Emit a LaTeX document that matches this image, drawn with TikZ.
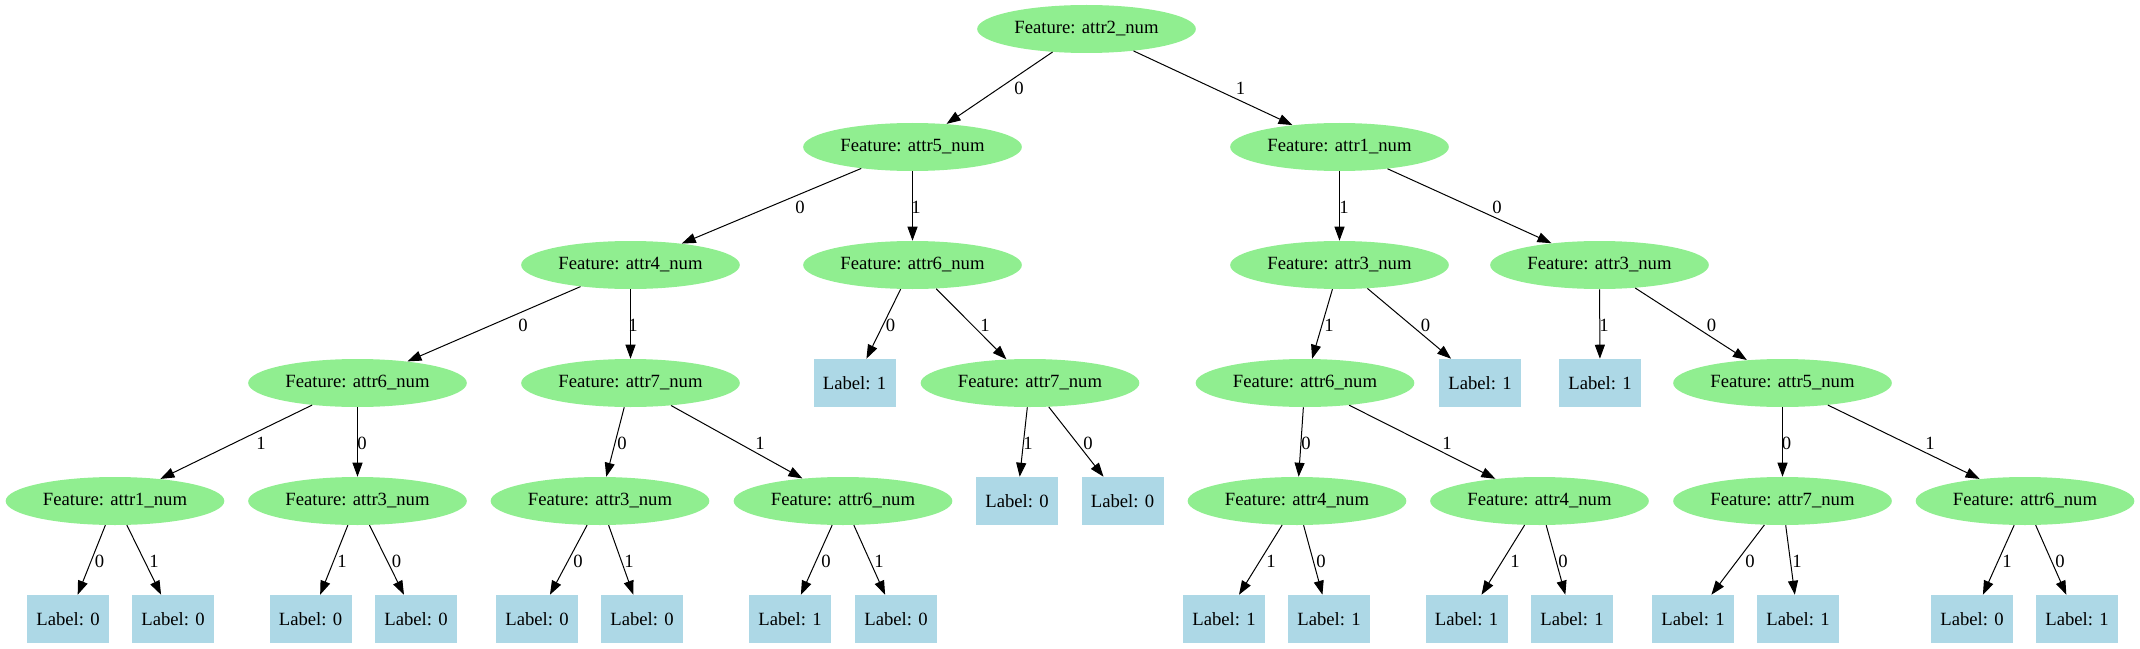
\documentclass[tikz,border=0pt]{standalone}
\usepackage{fontspec}
\setmainfont{Liberation Serif}
\usetikzlibrary{shapes.geometric,arrows.meta}
\definecolor{featgreen}{HTML}{90EE90}
\definecolor{leafblue}{HTML}{ADD8E6}
\begin{document}
\begin{tikzpicture}[x=0.75pt,y=-0.75pt,
  txt/.style={font=\fontsize{14}{16}\selectfont},
  feat/.style={txt, ellipse, fill=featgreen, draw=none, minimum width=164pt, minimum height=36pt, inner sep=0pt},
  leaf/.style={txt, rectangle, fill=leafblue, draw=none, minimum width=61.5pt, minimum height=36pt, inner sep=0pt},
  conn/.style={-{Triangle[length=10.5pt,width=7.5pt]}, line width=0.75pt, black},
  lbl/.style={txt, inner sep=0pt}]
\useasboundingbox (0,0) rectangle (2140,649);
% level 0
\node[feat] (r) at (1086.5,29) {Feature: attr2\_num};
% level 1
\node[feat] (a) at (912.5,147) {Feature: attr5\_num};
\node[feat] (b) at (1339.5,147) {Feature: attr1\_num};
% level 2
\node[feat] (aa) at (630.5,265) {Feature: attr4\_num};
\node[feat] (ab) at (912.5,265) {Feature: attr6\_num};
\node[feat] (ba) at (1339.5,265) {Feature: attr3\_num};
\node[feat] (bb) at (1599.5,265) {Feature: attr3\_num};
% level 3
\node[feat] (aaa) at (357.5,383) {Feature: attr6\_num};
\node[feat] (aab) at (630.5,383) {Feature: attr7\_num};
\node[leaf] (aba) at (854.5,383) {Label: 1};
\node[feat] (abb) at (1030,383) {Feature: attr7\_num};
\node[feat] (baa) at (1305,383) {Feature: attr6\_num};
\node[leaf] (bab) at (1480,383) {Label: 1};
\node[leaf] (bba) at (1600,383) {Label: 1};
\node[feat] (bbb) at (1782.5,383) {Feature: attr5\_num};
% level 4
\node[feat] (aaaa) at (115,501) {Feature: attr1\_num};
\node[feat] (aaab) at (357.5,501) {Feature: attr3\_num};
\node[feat] (aaba) at (600,501) {Feature: attr3\_num};
\node[feat] (aabb) at (843,501) {Feature: attr6\_num};
\node[leaf] (abba) at (1017,501) {Label: 0};
\node[leaf] (abbb) at (1122.5,501) {Label: 0};
\node[feat] (baaa) at (1297,501) {Feature: attr4\_num};
\node[feat] (baab) at (1539.5,501) {Feature: attr4\_num};
\node[feat] (bbba) at (1782.5,501) {Feature: attr7\_num};
\node[feat] (bbbb) at (2025,501) {Feature: attr6\_num};
% level 5
\node[leaf] (l1) at (68,619) {Label: 0};
\node[leaf] (l2) at (173,619) {Label: 0};
\node[leaf] (l3) at (310.5,619) {Label: 0};
\node[leaf] (l4) at (416,619) {Label: 0};
\node[leaf] (l5) at (537,619) {Label: 0};
\node[leaf] (l6) at (642,619) {Label: 0};
\node[leaf] (l7) at (790,619) {Label: 1};
\node[leaf] (l8) at (896,619) {Label: 0};
\node[leaf] (l9) at (1224,619) {Label: 1};
\node[leaf] (l10) at (1329,619) {Label: 1};
\node[leaf] (l11) at (1466.5,619) {Label: 1};
\node[leaf] (l12) at (1572,619) {Label: 1};
\node[leaf] (l13) at (1693,619) {Label: 1};
\node[leaf] (l14) at (1798,619) {Label: 1};
\node[leaf] (l15) at (1972,619) {Label: 0};
\node[leaf] (l16) at (2077,619) {Label: 1};
% edges
\draw[conn] (r) -- (a) node[lbl, at={(1019,88)}] {0};
\draw[conn] (r) -- (b) node[lbl, at={(1240.6,88)}] {1};
\draw[conn] (a) -- (aa) node[lbl, at={(800,207)}] {0};
\draw[conn] (a) -- (ab) node[lbl, at={(916,207)}] {1};
\draw[conn] (b) -- (ba) node[lbl, at={(1344,207)}] {1};
\draw[conn] (b) -- (bb) node[lbl, at={(1497,207)}] {0};
\draw[conn] (aa) -- (aaa) node[lbl, at={(523,325)}] {0};
\draw[conn] (aa) -- (aab) node[lbl, at={(633,325)}] {1};
\draw[conn] (ab) -- (aba) node[lbl, at={(890.6,325)}] {0};
\draw[conn] (ab) -- (abb) node[lbl, at={(985,325)}] {1};
\draw[conn] (ba) -- (baa) node[lbl, at={(1329,325)}] {1};
\draw[conn] (ba) -- (bab) node[lbl, at={(1425.6,325)}] {0};
\draw[conn] (bb) -- (bba) node[lbl, at={(1604,325)}] {1};
\draw[conn] (bb) -- (bbb) node[lbl, at={(1711.5,325)}] {0};
\draw[conn] (aaa) -- (aaaa) node[lbl, at={(261,443)}] {1};
\draw[conn] (aaa) -- (aaab) node[lbl, at={(362,443)}] {0};
\draw[conn] (aab) -- (aaba) node[lbl, at={(622,443)}] {0};
\draw[conn] (aab) -- (aabb) node[lbl, at={(760,443)}] {1};
\draw[conn] (abb) -- (abba) node[lbl, at={(1028,443)}] {1};
\draw[conn] (abb) -- (abbb) node[lbl, at={(1088,443)}] {0};
\draw[conn] (baa) -- (baaa) node[lbl, at={(1306,443)}] {0};
\draw[conn] (baa) -- (baab) node[lbl, at={(1447,443)}] {1};
\draw[conn] (bbb) -- (bbba) node[lbl, at={(1786.6,443)}] {0};
\draw[conn] (bbb) -- (bbbb) node[lbl, at={(1930,443)}] {1};
\draw[conn] (aaaa) -- (l1) node[lbl, at={(99.6,561)}] {0};
\draw[conn] (aaaa) -- (l2) node[lbl, at={(154,561)}] {1};
\draw[conn] (aaab) -- (l3) node[lbl, at={(342,561)}] {1};
\draw[conn] (aaab) -- (l4) node[lbl, at={(396.5,561)}] {0};
\draw[conn] (aaba) -- (l5) node[lbl, at={(578,561)}] {0};
\draw[conn] (aaba) -- (l6) node[lbl, at={(629,561)}] {1};
\draw[conn] (aabb) -- (l7) node[lbl, at={(826,561)}] {0};
\draw[conn] (aabb) -- (l8) node[lbl, at={(879,561)}] {1};
\draw[conn] (baaa) -- (l9) node[lbl, at={(1271,561)}] {1};
\draw[conn] (baaa) -- (l10) node[lbl, at={(1321,561)}] {0};
\draw[conn] (baab) -- (l11) node[lbl, at={(1515,561)}] {1};
\draw[conn] (baab) -- (l12) node[lbl, at={(1563,561)}] {0};
\draw[conn] (bbba) -- (l13) node[lbl, at={(1750,561)}] {0};
\draw[conn] (bbba) -- (l14) node[lbl, at={(1797,561)}] {1};
\draw[conn] (bbbb) -- (l15) node[lbl, at={(2007,561)}] {1};
\draw[conn] (bbbb) -- (l16) node[lbl, at={(2060,561)}] {0};
\end{tikzpicture}
\end{document}
